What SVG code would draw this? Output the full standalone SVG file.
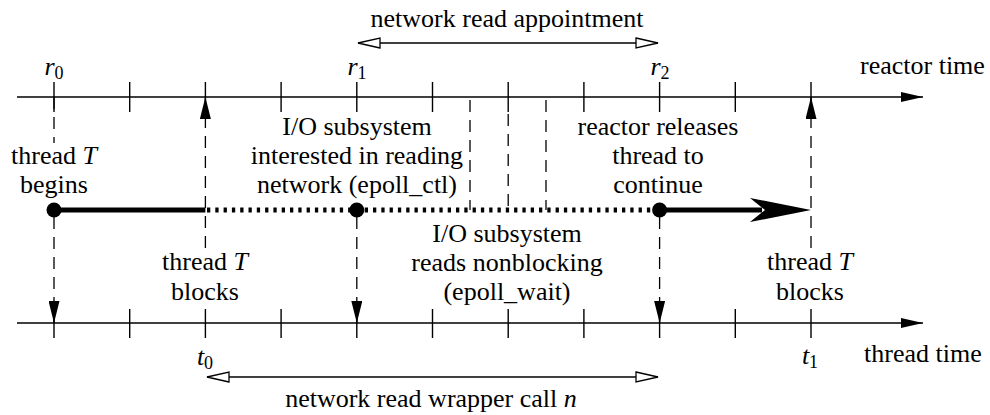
<svg xmlns="http://www.w3.org/2000/svg" width="990" height="415" viewBox="0 0 990 415">
<style>
text{font-family:'Liberation Serif','Times New Roman',Times,serif;font-size:26px;fill:#000}
.m{text-anchor:middle}
.i{font-style:italic}
.sub{font-size:18px}
.ax{stroke:#000;stroke-width:1.4;fill:none}
.tk{stroke:#000;stroke-width:1.4}
.da{stroke:#000;stroke-width:1.3;stroke-dasharray:12 8;fill:none}
.thick{stroke:#000;stroke-width:5;fill:none}
.dot{stroke:#000;stroke-width:5;stroke-dasharray:3.3 5;fill:none}
.span{stroke:#000;stroke-width:1.3;fill:none}
</style>
<defs>
<marker id="fa" viewBox="0 0 22 11" markerWidth="22" markerHeight="11" refX="22" refY="5.5" orient="auto" markerUnits="userSpaceOnUse">
<path d="M0,0 L22,5.5 L0,11 Z" fill="#000"/>
</marker>
<marker id="ax" viewBox="0 0 22 10" markerWidth="22" markerHeight="10" refX="22" refY="5" orient="auto" markerUnits="userSpaceOnUse">
<path d="M0,0 L22,5 L0,10 Z" fill="#000"/>
</marker>
<marker id="oa" viewBox="-1 -1 24 12" markerWidth="24" markerHeight="12" refX="22" refY="5" orient="auto-start-reverse" markerUnits="userSpaceOnUse">
<path d="M0,0 L22,5 L0,10 Z" fill="#fff" stroke="#000" stroke-width="1.3"/>
</marker>
</defs>
<g font-family="Liberation Serif, serif">

<g id="reactor-axis">
<line class="ax" x1="17" y1="97" x2="923" y2="97" marker-end="url(#ax)"/>
<path class="tk" d="M54,82V112M129.7,82V112M205.4,82V112M281.1,82V112M356.8,82V112M432.5,82V112M508.2,82V112M583.9,82V112M659.6,82V112M735.3,82V112M811,82V112"/>
<text x="54" y="75" class="m"><tspan class="i">r</tspan><tspan class="sub" dy="3.5">0</tspan></text>
<text x="357" y="75" class="m"><tspan class="i">r</tspan><tspan class="sub" dy="3.5">1</tspan></text>
<text x="660" y="75" class="m"><tspan class="i">r</tspan><tspan class="sub" dy="3.5">2</tspan></text>
<text x="860" y="74">reactor time</text>
</g>

<g id="thread-axis">
<line class="ax" x1="17" y1="323" x2="923" y2="323" marker-end="url(#ax)"/>
<path class="tk" d="M54,309V338M129.7,309V338M205.4,309V338M281.1,309V338M356.8,309V338M432.5,309V338M508.2,309V338M583.9,309V338M659.6,309V338M735.3,309V338M811,309V338"/>
<text x="205" y="365" class="m"><tspan class="i">t</tspan><tspan class="sub" dy="3.5">0</tspan></text>
<text x="810" y="364" class="m"><tspan class="i">t</tspan><tspan class="sub" dy="3.5">1</tspan></text>
<text x="864" y="362">thread time</text>
</g>

<g id="appointment">
<line class="span" x1="358" y1="43" x2="658" y2="43" marker-start="url(#oa)" marker-end="url(#oa)"/>
<text x="507" y="27" class="m">network read appointment</text>
</g>

<g id="wrapper-call">
<line class="span" x1="207" y1="377" x2="658" y2="377" marker-start="url(#oa)" marker-end="url(#oa)"/>
<text x="431" y="407" class="m">network read wrapper call <tspan class="i">n</tspan></text>
</g>

<g id="connectors">
<line class="da" x1="54" y1="97" x2="54" y2="143"/>
<line class="da" x1="54" y1="217" x2="54" y2="323" marker-end="url(#fa)"/>
<line class="da" x1="205.4" y1="248" x2="205.4" y2="97" marker-end="url(#fa)"/>
<line class="da" x1="356.8" y1="217" x2="356.8" y2="323" marker-end="url(#fa)"/>
<line class="da" x1="659.6" y1="217" x2="659.6" y2="323" marker-end="url(#fa)"/>
<line class="da" x1="811" y1="248" x2="811" y2="97" marker-end="url(#fa)"/>
<line class="da" x1="470" y1="100" x2="470" y2="210"/>
<line class="da" x1="508.2" y1="112" x2="508.2" y2="210" style="stroke-dashoffset:-2"/>
<line class="da" x1="546" y1="100" x2="546" y2="210"/>
<line class="thick" x1="54" y1="210" x2="205.4" y2="210"/>
<line class="dot" x1="207" y1="210" x2="659" y2="210"/>
<line class="thick" x1="659.6" y1="210" x2="762" y2="210"/>
<polygon points="811,210 750,198 765,210 750,222" fill="#000"/>
</g>

<g id="begin">
<circle cx="54" cy="210" r="7.5" fill="#000"/>
<text x="54" y="164" class="m">thread <tspan class="i">T</tspan></text>
<text x="54" y="193" class="m">begins</text>
</g>

<g id="interest">
<circle cx="356.8" cy="210" r="7.5" fill="#000"/>
<text x="357" y="135" class="m">I/O subsystem</text>
<text x="357" y="164" class="m">interested in reading</text>
<text x="357" y="193" class="m">network (epoll_ctl)</text>
</g>

<g id="release">
<circle cx="659.6" cy="210" r="7.5" fill="#000"/>
<text x="658" y="135" class="m">reactor releases</text>
<text x="658" y="164" class="m">thread to</text>
<text x="658" y="193" class="m">continue</text>
</g>

<g id="nonblocking">
<text x="507" y="242" class="m">I/O subsystem</text>
<text x="507" y="271" class="m">reads nonblocking</text>
<text x="507" y="300" class="m">(epoll_wait)</text>
</g>

<g id="block0">
<text x="205" y="270" class="m">thread <tspan class="i">T</tspan></text>
<text x="205" y="300" class="m">blocks</text>
</g>

<g id="block1">
<text x="810" y="270" class="m">thread <tspan class="i">T</tspan></text>
<text x="810" y="300" class="m">blocks</text>
</g>
</g>
</svg>
